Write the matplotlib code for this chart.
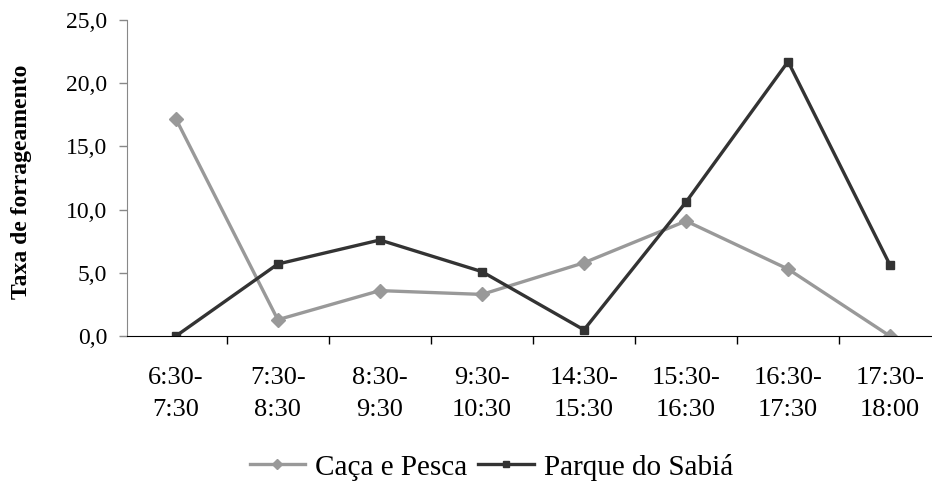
import matplotlib.pyplot as plt
import numpy as np

# foraging rate per time slot at the two sites
horarios = ["6:30-\n7:30", "7:30-\n8:30", "8:30-\n9:30", "9:30-\n10:30",
            "14:30-\n15:30", "15:30-\n16:30", "16:30-\n17:30", "17:30-\n18:00"]
caca_pesca = [17.2, 1.3, 3.6, 3.3, 5.8, 9.1, 5.3, 0.0]
parque_sabia = [0.0, 5.7, 7.6, 5.1, 0.5, 10.6, 21.7, 5.6]

plt.rcParams['font.family'] = ['Liberation Serif', 'DejaVu Serif']

fig = plt.figure(figsize=(9.32, 4.83), dpi=100)
ax = fig.add_axes([0.136, 0.304, 0.864, 0.655])

x = np.arange(len(horarios))
ax.plot(x, caca_pesca, color='#999999', lw=2.4, marker='D', ms=7,
        label='Caça e Pesca')
ax.plot(x, parque_sabia, color='#333333', lw=2.4, marker='s', ms=5.5,
        label='Parque do Sabiá')

ax.set_xlim(-0.48, 7.41)
ax.set_ylim(0, 25)
ax.set_yticks(np.arange(0, 26, 5))
ax.set_yticklabels([("%.1f" % v).replace('.', ',') for v in np.arange(0, 26, 5)])
ax.set_xticks(x)
ax.set_xticklabels(horarios, linespacing=1.6)
ax.set_xticks(np.arange(0.5, 7.5, 1), minor=True)
ax.tick_params(axis='x', which='major', length=0, pad=22, labelsize=19)
ax.tick_params(axis='x', which='minor', length=6, color='black', width=1)
ax.tick_params(axis='y', length=6, color='#888888', width=1, labelsize=17, pad=8)

for s in ['top', 'right']:
    ax.spines[s].set_visible(False)
ax.spines['left'].set_color('#888888')
ax.spines['bottom'].set_color('black')

ax.set_ylabel('Taxa de forrageamento', fontsize=17, fontweight='bold')
ax.yaxis.set_label_coords(-0.118, 0.487)

ax.legend(loc='center', frameon=False, ncol=2, fontsize=21,
          handlelength=1.9, columnspacing=0.38, handletextpad=0.34,
          markerscale=0.8, bbox_to_anchor=(0.527, 0.033),
          bbox_transform=fig.transFigure)

fig.savefig('out.png', dpi=100)
